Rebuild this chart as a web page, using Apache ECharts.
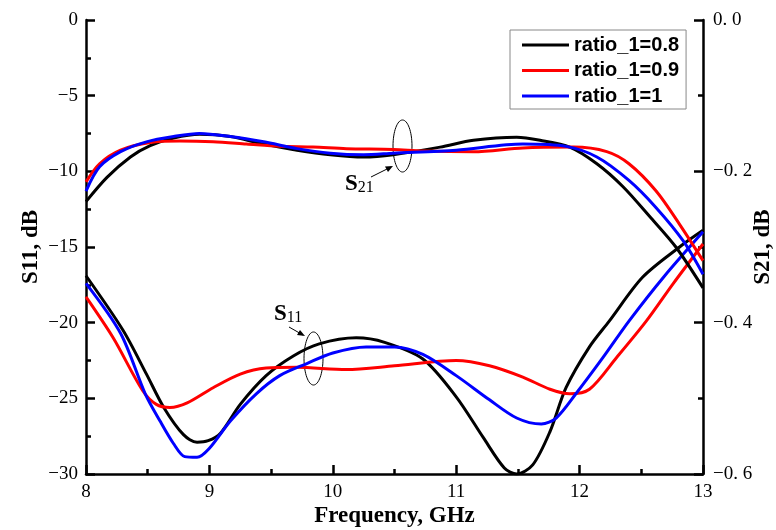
<!DOCTYPE html>
<html>
<head>
<meta charset="utf-8">
<script src="https://cdn.jsdelivr.net/npm/echarts@6/dist/echarts.min.js"></script>
<style>
  html, body { margin: 0; padding: 0; background: #fff; }
  #main { width: 776px; height: 530px; }
</style>
</head>
<body>
<div id="main"></div>
<script>
// series names
var names = ['ratio_1=0.8', 'ratio_1=0.9', 'ratio_1=1'];
var colors = ['#000000', '#ff0000', '#0000ff'];

// S11 (left axis, dB) : [GHz, dB]
var s11_08 = [[8.0,-16.9],[8.30,-20.5],[8.49,-23.4],[8.63,-25.6],[8.79,-27.4],[8.90,-27.9],[8.99,-27.8],[9.09,-27.3],[9.25,-25.4],[9.46,-23.5],[9.68,-22.2],[9.89,-21.4],[10.19,-21.0],[10.42,-21.3],[10.73,-22.4],[11.0,-24.9],[11.22,-27.6],[11.39,-29.6],[11.49,-30.0],[11.62,-29.4],[11.76,-27.2],[11.89,-24.3],[12.08,-21.6],[12.24,-19.9],[12.51,-17.0],[12.81,-15.0],[13.0,-13.9]];
var s11_09 = [[8.0,-18.3],[8.22,-21.0],[8.46,-24.5],[8.57,-25.4],[8.68,-25.6],[8.82,-25.3],[9.03,-24.3],[9.25,-23.4],[9.46,-23.0],[9.71,-22.95],[10.11,-23.1],[10.5,-22.85],[11.0,-22.5],[11.27,-22.85],[11.54,-23.6],[11.76,-24.4],[11.92,-24.7],[12.08,-24.4],[12.30,-22.3],[12.54,-19.9],[12.76,-17.4],[13.0,-14.8]];
var s11_10 = [[8.0,-17.4],[8.28,-20.7],[8.48,-24.7],[8.60,-26.5],[8.71,-28.0],[8.80,-28.85],[8.90,-28.9],[9.0,-28.3],[9.17,-26.5],[9.38,-24.7],[9.57,-23.5],[9.79,-22.7],[10.0,-22.0],[10.27,-21.6],[10.5,-21.6],[10.73,-22.1],[11.0,-23.5],[11.27,-25.1],[11.49,-26.3],[11.69,-26.7],[11.81,-26.3],[11.97,-24.7],[12.19,-22.3],[12.40,-19.9],[12.68,-17.0],[13.0,-14.0]];

// S21 (right axis, dB) : [GHz, dB]
var s21_08 = [[8.0,-0.240],[8.17,-0.208],[8.36,-0.181],[8.52,-0.166],[8.71,-0.156],[8.92,-0.151],[9.17,-0.154],[9.44,-0.164],[9.71,-0.172],[9.98,-0.178],[10.25,-0.181],[10.49,-0.178],[10.87,-0.168],[11.14,-0.159],[11.49,-0.155],[11.68,-0.159],[11.92,-0.168],[12.14,-0.190],[12.35,-0.220],[12.57,-0.260],[12.78,-0.300],[13.0,-0.354]];
var s21_09 = [[8.0,-0.214],[8.11,-0.190],[8.28,-0.172],[8.52,-0.162],[8.76,-0.160],[9.03,-0.161],[9.30,-0.164],[9.57,-0.167],[9.84,-0.168],[10.11,-0.170],[10.49,-0.171],[10.73,-0.173],[11.14,-0.174],[11.54,-0.169],[11.95,-0.168],[12.22,-0.174],[12.40,-0.190],[12.62,-0.226],[12.81,-0.270],[13.0,-0.318]];
var s21_10 = [[8.0,-0.226],[8.11,-0.194],[8.28,-0.174],[8.49,-0.161],[8.71,-0.154],[8.92,-0.150],[9.17,-0.154],[9.44,-0.161],[9.71,-0.170],[9.98,-0.176],[10.25,-0.178],[10.49,-0.176],[11.0,-0.172],[11.54,-0.164],[11.89,-0.167],[12.14,-0.181],[12.40,-0.212],[12.62,-0.248],[12.84,-0.292],[13.0,-0.336]];

var s11Data = [s11_08, s11_09, s11_10];
var s21Data = [s21_08, s21_09, s21_10];

var serif = '"Liberation Serif", "Times New Roman", serif';
var myChart = echarts.init(document.getElementById('main'));

function minus(s) { return String(s).replace('-', '\u2212'); }

function axisCommon() {
    return {
        nameMoveOverlap: false,
        axisLine: { show: true, onZero: false, lineStyle: { color: '#000', width: 2.5 } },
        axisTick: { show: true, inside: true, length: 9, lineStyle: { color: '#000', width: 2.5 } },
        minorTick: { show: true, splitNumber: 2, length: 5, lineStyle: { color: '#000', width: 2.5 } },
        splitLine: { show: false },
        axisLabel: { color: '#000', fontFamily: serif, fontSize: 19 },
        nameTextStyle: { color: '#000', fontFamily: serif, fontSize: 23, fontWeight: 'bold' }
    };
}

var series = [];
for (var i = 0; i < 3; i++) {
    series.push({
        name: names[i], type: 'line', xAxisIndex: 0, yAxisIndex: 0,
        data: s11Data[i], showSymbol: false, smooth: 0.3,
        lineStyle: { color: colors[i], width: 3 }, itemStyle: { color: colors[i] }
    });
}
for (var j = 0; j < 3; j++) {
    series.push({
        name: names[j], type: 'line', xAxisIndex: 0, yAxisIndex: 1,
        data: s21Data[j], showSymbol: false, smooth: 0.3,
        lineStyle: { color: colors[j], width: 3 }, itemStyle: { color: colors[j] }
    });
}

var xAx = axisCommon();
xAx.type = 'value'; xAx.min = 8; xAx.max = 13; xAx.interval = 1;
xAx.name = 'Frequency, GHz'; xAx.nameLocation = 'middle'; xAx.nameGap = 31;
xAx.axisLabel.margin = 9;

var yL = axisCommon();
yL.type = 'value'; yL.min = -30; yL.max = 0; yL.interval = 5;
yL.name = 'S11, dB'; yL.nameLocation = 'middle'; yL.nameGap = 43; yL.nameRotate = 90;
yL.axisLabel.formatter = function (v) { return minus(v); };
yL.axisLabel.margin = 8;

var yR = axisCommon();
yR.type = 'value'; yR.min = -0.6; yR.max = 0; yR.interval = 0.2; yR.position = 'right';
yR.name = 'S21, dB'; yR.nameLocation = 'middle'; yR.nameGap = 49; yR.nameRotate = 90;
yR.axisLabel.formatter = function (v) { return minus(v.toFixed(1)).replace('.', '. '); };
yR.axisLabel.margin = 10;

var option = {
    animation: false,
    backgroundColor: '#fff',
    grid: { left: 86, right: 73, top: 20, bottom: 56, outerBoundsMode: 'none', containLabel: false },
    legend: {
        data: names, orient: 'vertical', left: 510, top: 30,
        padding: [5, 7, 3, 12], itemGap: 5.5,
        itemWidth: 47, itemHeight: 3, icon: 'rect',
        borderColor: '#888', borderWidth: 1, backgroundColor: '#fff',
        textStyle: { color: '#000', fontFamily: '"Liberation Sans", Arial, sans-serif', fontWeight: 'bold', fontSize: 20 }
    },
    xAxis: xAx,
    yAxis: [yL, yR],
    series: series,
    graphic: [
        { type: 'ellipse', shape: { cx: 402.5, cy: 146, rx: 9.5, ry: 26 }, style: { fill: 'none', stroke: '#000', lineWidth: 1 } },
        { type: 'line', shape: { x1: 371, y1: 177, x2: 391, y2: 167 }, style: { stroke: '#000', lineWidth: 1 } },
        { type: 'polygon', shape: { points: [[393, 166], [385, 166.5], [388, 172]] }, style: { fill: '#000' } },
        { type: 'text', left: 345, top: 173, style: { text: '{a|S}{b|21}', rich: { a: { fontFamily: serif, fontSize: 23, fontWeight: 'bold', fill: '#000' }, b: { fontFamily: serif, fontSize: 16, fill: '#000', padding: [6, 0, 0, 0] } } } },
        { type: 'ellipse', shape: { cx: 313.5, cy: 358.5, rx: 9.5, ry: 26.5 }, style: { fill: 'none', stroke: '#000', lineWidth: 1 } },
        { type: 'line', shape: { x1: 289, y1: 327, x2: 303, y2: 335 }, style: { stroke: '#000', lineWidth: 1 } },
        { type: 'polygon', shape: { points: [[305, 336], [297, 335], [300, 330]] }, style: { fill: '#000' } },
        { type: 'text', left: 274, top: 303, style: { text: '{a|S}{b|11}', rich: { a: { fontFamily: serif, fontSize: 23, fontWeight: 'bold', fill: '#000' }, b: { fontFamily: serif, fontSize: 16, fill: '#000', padding: [6, 0, 0, 0] } } } }
    ]
};
myChart.setOption(option);
</script>
</body>
</html>
